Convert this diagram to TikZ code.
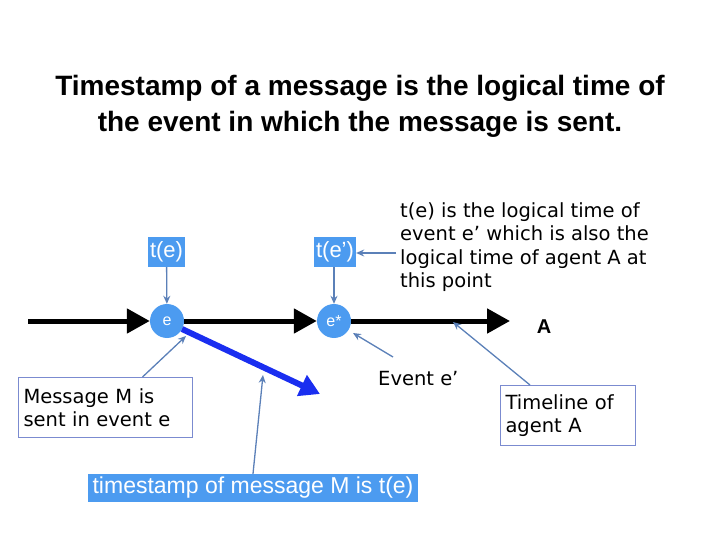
\documentclass[tikz,border=0pt]{standalone}
\usepackage{fontspec}
\setmainfont{Liberation Sans}
\newfontfamily\bodyfont{DejaVu Sans}
\usetikzlibrary{arrows.meta}
\definecolor{boxblue}{HTML}{4C9BF0}
\definecolor{conn}{HTML}{5B80B8}
\definecolor{msgblue}{HTML}{1A2EF0}
\definecolor{frame}{HTML}{7B8BD0}
\tikzset{
  tl/.style={line width=5pt, -{Triangle[length=23pt,width=24pt]}},
  ev/.style={circle, fill=boxblue, minimum size=34pt, inner sep=0pt, text=white, font=\fontsize{16}{16}\selectfont},
  tbox/.style={fill=boxblue, text=white, inner xsep=2pt, inner ysep=0pt, minimum height=30pt, font=\fontsize{22}{22}\selectfont},
  pointer/.style={draw=conn, line width=1.3pt, -{Stealth[length=8pt,width=7pt]}},
  note/.style={font=\bodyfont\fontsize{19.5}{23.5}\selectfont, align=left, inner sep=0pt},
  framed/.style={note, draw=frame, line width=1pt, inner xsep=5pt, minimum height=60pt}
}
\begin{document}
\begin{tikzpicture}[x=1pt,y=-1pt]
\useasboundingbox (0,0) rectangle (720,540);
% title
\node[font=\bfseries\fontsize{28}{36}\selectfont, align=center] (title) at (360,106)
  {Timestamp of a message is the logical time of\\the event in which the message is sent.};
% events
\node[ev] (e) at (167,321) {e};
\node[ev] (es) at (334,321) {e*};
\coordinate (start) at (28,321);
\coordinate (endA) at (510,321);
\draw[tl] (start) -- (e.west);
\draw[tl] (e.east) -- (es.west);
\draw[tl] (es.east) -- (endA);
\node[font=\bfseries\fontsize{20}{20}\selectfont] (A) at (544,327) {A};
% t boxes
\node[tbox] (te) at (166.5,252) {t(e)};
\node[tbox] (tes) at (335,252) {t(e’)};
\draw[pointer] (te) -- (e);
\draw[pointer] (tes.south -| es) -- (es);
% note
\node[note, anchor=base west] (expl) at (400,287.5)
  {t(e) is the logical time of\\event e’ which is also the\\logical time of agent A at\\this point};
\coordinate (explpt) at (396,253);
\draw[pointer] (explpt) -- (tes.east |- explpt);
% message arrow
\coordinate (msgstart) at (182,329);
\coordinate (msgend) at (320,394);
\draw[msgblue, line width=6pt, -{Triangle[length=20pt,width=22pt]}] (msgstart) -- (msgend);
% message M box
\node[framed, anchor=north west, text width=164pt] (mbox) at (18,377)
  {Message M is\\sent in event e};
\coordinate (mtip) at (186,336);
\draw[pointer] (mbox.north) ++(37,0) -- (mtip);
% event e'
\node[note, anchor=base west] (evt) at (378,385) {Event e’};
\coordinate (evtpt) at (393,357);
\coordinate (estip) at (353,333);
\draw[pointer] (evtpt) -- (estip);
% timeline box
\node[framed, anchor=north west, text width=125pt] (tlbox) at (500,385)
  {Timeline of\\agent A};
\coordinate (tlpt) at (453,322);
\draw[pointer] (tlbox.north west) ++(30,0) -- (tlpt);
% timestamp box
\node[tbox, minimum width=330pt, minimum height=28pt, font=\fontsize{23}{23}\selectfont] (ts) at (253,488)
  {timestamp of message M is t(e)};
\coordinate (msgpt) at (263,375);
\draw[pointer] (ts.north) -- (msgpt);
\end{tikzpicture}
\end{document}
